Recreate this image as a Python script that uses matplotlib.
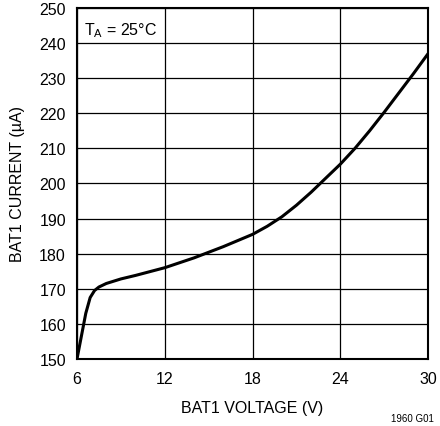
import numpy as np
import matplotlib
matplotlib.use("Agg")
import matplotlib.pyplot as plt
from matplotlib import font_manager

names = {f.name for f in font_manager.fontManager.ttflist}
fam = 'Liberation Sans Narrow' if 'Liberation Sans Narrow' in names else 'Liberation Sans'
plt.rcParams['font.family'] = [fam, 'DejaVu Sans']
fs = 13 if fam == 'Liberation Sans Narrow' else 11.5

# data
voltage = [6.0, 6.3, 6.6, 6.9, 7.2, 7.5, 8.0, 9.0, 10.0, 12.0, 14.0, 16.0, 18.0,
           19.0, 20.0, 21.0, 22.0, 23.0, 24.0, 25.0, 26.0, 27.0, 28.0, 29.0, 30.0]
current = [150.0, 156.5, 163.0, 167.5, 169.5, 170.5, 171.5, 172.8, 173.8, 176.0, 178.8, 182.0, 185.5,
           187.8, 190.5, 193.8, 197.5, 201.5, 205.5, 210.0, 215.0, 220.3, 225.8, 231.3, 237.0]

xticks = [6, 12, 18, 24, 30]
yticks = list(range(150, 251, 10))

fig = plt.figure(figsize=(4.4, 4.27), dpi=100)
ax = fig.add_axes([0.175, 0.157, 0.798, 0.822])

ax.plot(voltage, current, color='black', lw=2.2, solid_capstyle='round')
ax.set_xlim(6, 30)
ax.set_ylim(150, 250)
ax.set_xticks(xticks)
ax.set_yticks(yticks)
ax.grid(True, color='black', lw=0.9)
ax.tick_params(axis='x', length=0, labelsize=fs, pad=8.5)
ax.tick_params(axis='y', length=0, labelsize=fs, pad=8)
for s in ax.spines.values():
    s.set_linewidth(1.5)

ax.set_xlabel('BAT1 VOLTAGE (V)', fontsize=fs, labelpad=10)
ax.set_ylabel('BAT1 CURRENT (\u00b5A)', fontsize=fs, labelpad=10)
ax.text(0.02, 0.965, 'T$_\\mathregular{A}$ = 25\u00b0C', transform=ax.transAxes,
        fontsize=fs, va='top', ha='left')
fig.text(0.985, 0.006, '1960 G01', fontsize=7, ha='right', va='bottom')

fig.savefig('out.png', dpi=100)
